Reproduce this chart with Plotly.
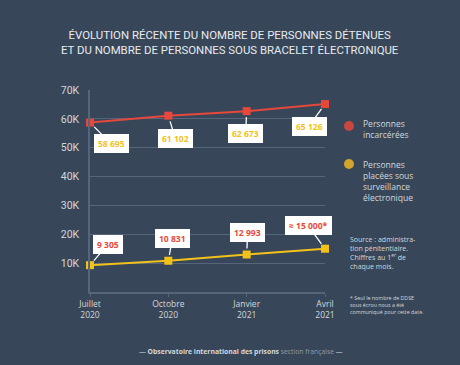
import plotly.graph_objects as go

months = ["Juillet<br>2020", "Octobre<br>2020", "Janvier<br>2021", "Avril<br>2021"]
incarcerees = [58695, 61102, 62673, 65126]
bracelet = [9305, 10831, 12993, 15000]
incar_labels = ["58 695", "61 102", "62 673", "65 126"]
bracelet_labels = ["9 305", "10 831", "12 993", "≈ 15 000*"]
ytick_vals = [10000, 20000, 30000, 40000, 50000, 60000, 70000]
ytick_text = ["10K", "20K", "30K", "40K", "50K", "60K", "70K"]

BG = "#374759"
RED = "#e8473b"
YEL = "#f2c21b"
GRID = "#56667a"
TXT = "#d3d7dc"

W, H = 460, 365
L, R, T, B = 90, 325, 90, 292
def px(x):
    return (x - L) / (R - L)
def py(y):
    return (B - y) / (B - T)

xs = list(range(len(months)))
fig = go.Figure()
fig.add_trace(go.Scatter(x=xs, y=incarcerees, mode="lines+markers",
                         line=dict(color=RED, width=2),
                         marker=dict(symbol="square", size=8, color=RED),
                         cliponaxis=False, hoverinfo="skip"))
fig.add_trace(go.Scatter(x=xs, y=bracelet, mode="lines+markers",
                         line=dict(color=YEL, width=2),
                         marker=dict(symbol="square", size=8, color=YEL),
                         cliponaxis=False, hoverinfo="skip"))

ann = []
off_red = [(21, 21), (7, 23), (-1, 22), (-16, 22)]
off_yel = [(18, -21), (4, -22), (1, -22), (-17, -23)]
for i in range(4):
    ann.append(dict(x=xs[i], y=incarcerees[i], xref="x", yref="y",
                    text="<b>%s</b>" % incar_labels[i], showarrow=True,
                    ax=off_red[i][0], ay=off_red[i][1], arrowhead=0,
                    arrowwidth=1.3, arrowcolor="white", standoff=6,
                    bgcolor="white", bordercolor="white", borderpad=3,
                    font=dict(family="Open Sans", size=8.5, color=YEL)))
    ann.append(dict(x=xs[i], y=bracelet[i], xref="x", yref="y",
                    text="<b>%s</b>" % bracelet_labels[i], showarrow=True,
                    ax=off_yel[i][0], ay=off_yel[i][1], arrowhead=0,
                    arrowwidth=1.3, arrowcolor="white", standoff=6,
                    bgcolor="white", bordercolor="white", borderpad=3,
                    font=dict(family="Open Sans", size=8.5, color=RED)))

# title
ann.append(dict(xref="paper", yref="paper", x=px(230), y=py(25.5), xanchor="center", yanchor="top",
                showarrow=False,
                text="ÉVOLUTION RÉCENTE DU NOMBRE DE PERSONNES DÉTENUES<br>ET DU NOMBRE DE PERSONNES SOUS BRACELET ÉLECTRONIQUE",
                font=dict(family="Roboto", size=11.4, color="#e8eaed")))
# legend text
ann.append(dict(xref="paper", yref="paper", x=px(361), y=py(116), xanchor="left", yanchor="top",
                showarrow=False, align="left", text="Personnes<br>incarcérées",
                font=dict(family="Open Sans", size=8.5, color=TXT)))
ann.append(dict(xref="paper", yref="paper", x=px(361), y=py(157), xanchor="left", yanchor="top",
                showarrow=False, align="left",
                text="Personnes<br>placées sous<br>surveillance<br>électronique",
                font=dict(family="Open Sans", size=8.5, color=TXT)))
# source
ann.append(dict(xref="paper", yref="paper", x=px(348), y=py(233), xanchor="left", yanchor="top",
                showarrow=False, align="left",
                text="Source : administra-<br>tion pénitentiaire.<br>Chiffres au 1<sup>er</sup> de<br>chaque mois.",
                font=dict(family="Open Sans", size=7, color=TXT)))
ann.append(dict(xref="paper", yref="paper", x=px(348), y=py(292), xanchor="left", yanchor="top",
                showarrow=False, align="left",
                text="* Seul le nombre de DDSE<br>sous écrou nous a été<br>communiqué pour cette date.",
                font=dict(family="Open Sans", size=5.3, color=TXT)))
# footer
ann.append(dict(xref="paper", yref="paper", x=px(241), y=py(351), xanchor="center", yanchor="middle",
                showarrow=False,
                text="— <b>Observatoire international des prisons</b> <span style='color:#8f9aa6'>section française</span> —",
                font=dict(family="Open Sans", size=6.8, color=TXT)))

shapes = [
    dict(type="circle", xref="paper", yref="paper", x0=px(344), x1=px(354), y0=py(121), y1=py(131),
         fillcolor="#c9473e", line=dict(width=0)),
    dict(type="circle", xref="paper", yref="paper", x0=px(344), x1=px(354), y0=py(159), y1=py(169),
         fillcolor="#d1a52e", line=dict(width=0)),
]

fig.update_layout(
    width=W, height=H,
    margin=dict(l=L, r=W - R, t=T, b=H - B, pad=0),
    paper_bgcolor=BG, plot_bgcolor=BG,
    showlegend=False,
    annotations=ann, shapes=shapes,
    xaxis=dict(range=[0, 3], tickvals=xs, ticktext=months, showgrid=False, zeroline=False,
               showline=True, linecolor=GRID, linewidth=1.5, ticks="outside", ticklen=3,
               tickcolor=GRID, tickfont=dict(family="Open Sans", size=8.5, color=TXT), fixedrange=True),
    yaxis=dict(range=[0, 70000], tickvals=ytick_vals, ticktext=ytick_text, showgrid=True,
               gridcolor=GRID, gridwidth=1, zeroline=False, showline=True, linecolor=GRID,
               linewidth=1.5, ticks="", ticklabelstandoff=7,
               tickfont=dict(family="Roboto", size=10.5, color=TXT), fixedrange=True),
)

fig.write_html("out.html", config={"displayModeBar": False},
               post_script="document.body.style.margin='0';document.body.style.background='%s';" % BG)
